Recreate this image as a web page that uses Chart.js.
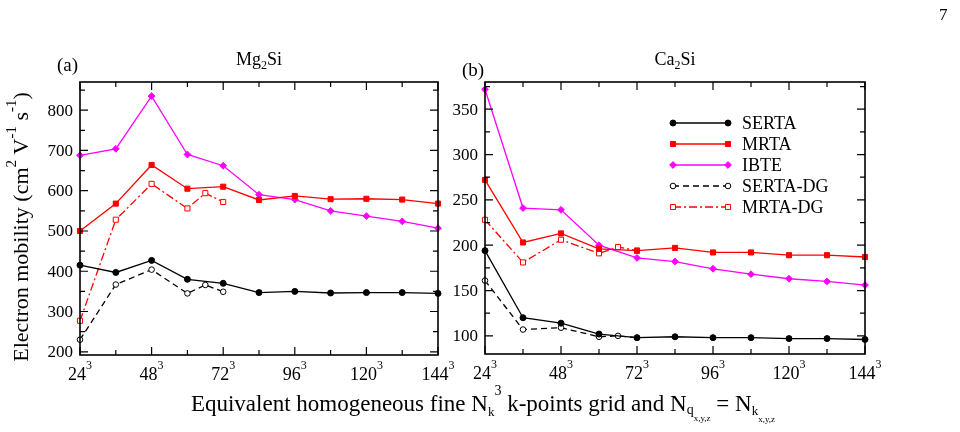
<!DOCTYPE html>
<html>
<head>
<meta charset="utf-8">
<script src="https://cdn.jsdelivr.net/npm/chart.js@4.4.0/dist/chart.umd.min.js"></script>
<style>
html, body { margin: 0; padding: 0; background: #fff; }
#wrap { position: relative; width: 960px; height: 432px; }
canvas { position: absolute; left: 0; top: 0; }
</style>
</head>
<body>
<div id="wrap">
  <canvas id="mg" width="960" height="432"></canvas>
  <canvas id="ca" width="960" height="432"></canvas>
</div>
<script>
// fine k-point grids (N_k), the DG runs stop at 72
const gridK = [24, 36, 48, 60, 72, 84, 96, 108, 120, 132, 144];
const gridDG = [24, 36, 48, 60, 66, 72];
const xTickLabels = ['24', '48', '72', '96', '120', '144'];
const xMinorTicks = [36, 60, 84, 108, 132];
const seriesNames = ['SERTA', 'MRTA', 'IBTE', 'SERTA-DG', 'MRTA-DG'];

// (a) Mg2Si
const mgSerta = [415, 397, 427, 380, 370, 347, 350, 346, 347, 347, 345];
const mgMrta = [500, 568, 664, 605, 610, 577, 587, 579, 580, 578, 568];
const mgIbte = [688, 704, 835, 690, 662, 590, 578, 550, 537, 524, 507];
const mgSertaDG = [230, 367, 404, 345, 366, 349];
const mgMrtaDG = [277, 528, 617, 556, 594, 572];
const mgYTicks = [200, 300, 400, 500, 600, 700, 800];
const mgYMinor = [250, 350, 450, 550, 650, 750, 850];

// (b) Ca2Si
const caSerta = [194, 120, 114, 102, 98, 99, 98, 98, 97, 97, 96];
const caMrta = [272, 203, 213, 196, 194, 197, 192, 192, 189, 189, 187];
const caIbte = [372, 241, 239, 200, 186, 182, 174, 168, 163, 160, 156];
const caSertaDG = [161, 107, 109, 99, 100, 98];
const caMrtaDG = [228, 181, 206, 191, 198, 194];
const caYTicks = [100, 150, 200, 250, 300, 350];
const caYMinor = [125, 175, 225, 275, 325, 375];

const SERIF = '"Liberation Serif", "Times New Roman", serif';

const styles = [
    { color: '#000000', point: 'circle', r: 3, fill: true, dash: [] },
    { color: '#ff0000', point: 'rect', r: 3.6, fill: true, dash: [] },
    { color: '#ff00ff', point: 'rectRot', r: 3.4, fill: true, dash: [] },
    { color: '#000000', point: 'circle', r: 2.8, fill: false, dash: [6, 4] },
    { color: '#ff0000', point: 'rect', r: 3.6, fill: false, dash: [8, 3, 2, 3] },
];

function makeDatasets(vals) {
    return vals.map((v, i) => {
        const xs = i < 3 ? gridK : gridDG;
        const s = styles[i];
        return {
            label: seriesNames[i],
            data: v.map((y, j) => ({ x: xs[j], y: y })),
            borderColor: s.color,
            borderWidth: 1.3,
            borderDash: s.dash,
            pointStyle: s.point,
            pointRadius: s.r,
            pointBackgroundColor: s.fill ? s.color : '#ffffff',
            pointBorderColor: s.color,
            pointBorderWidth: 1,
            tension: 0,
            clip: false,
        };
    });
}

// draws text made of pieces: [text, size, yShift]
function richText(ctx, parts, x, y, align) {
    let w = 0;
    parts.forEach(p => { ctx.font = p[1] + 'px ' + SERIF; w += ctx.measureText(p[0]).width; });
    let cx = align === 'center' ? x - w / 2 : x;
    ctx.textAlign = 'left';
    ctx.textBaseline = 'alphabetic';
    parts.forEach(p => {
        ctx.font = p[1] + 'px ' + SERIF;
        ctx.fillText(p[0], cx, y + p[2]);
        cx += ctx.measureText(p[0]).width;
    });
    return w;
}

function marker(ctx, s, x, y) {
    ctx.beginPath();
    if (s.point === 'circle') {
        ctx.arc(x, y, s.r, 0, 2 * Math.PI);
    } else if (s.point === 'rect') {
        const h = s.r * Math.SQRT1_2;
        ctx.rect(x - h, y - h, 2 * h, 2 * h);
    } else {
        ctx.moveTo(x - s.r, y); ctx.lineTo(x, y - s.r);
        ctx.lineTo(x + s.r, y); ctx.lineTo(x, y + s.r);
        ctx.closePath();
    }
    ctx.setLineDash([]);
    ctx.fillStyle = s.fill ? s.color : '#ffffff';
    ctx.fill();
    ctx.strokeStyle = s.color;
    ctx.lineWidth = 1;
    ctx.stroke();
}

function framePlugin(cfg) {
    return {
        id: 'frame',
        afterDatasetsDraw(chart) {
            const { ctx, chartArea: a, scales: { x, y } } = chart;
            ctx.save();
            ctx.fillStyle = '#000';
            ctx.strokeStyle = '#000';

            // inward ticks on all four sides
            ctx.lineWidth = 1.2;
            const vTick = (px, len) => {
                ctx.beginPath();
                ctx.moveTo(px, a.bottom); ctx.lineTo(px, a.bottom - len);
                ctx.moveTo(px, a.top); ctx.lineTo(px, a.top + len);
                ctx.stroke();
            };
            const hTick = (py, len) => {
                ctx.beginPath();
                ctx.moveTo(a.left, py); ctx.lineTo(a.left + len, py);
                ctx.moveTo(a.right, py); ctx.lineTo(a.right - len, py);
                ctx.stroke();
            };
            xTickLabels.forEach(t => vTick(x.getPixelForValue(Number(t)), 8));
            xMinorTicks.forEach(t => vTick(x.getPixelForValue(t), 5));
            cfg.yTicks.forEach(t => hTick(y.getPixelForValue(t), 8));
            cfg.yMinor.forEach(t => { if (t < cfg.yMax) hTick(y.getPixelForValue(t), 5); });

            ctx.lineWidth = 1.6;
            ctx.strokeRect(a.left, a.top, a.right - a.left, a.bottom - a.top);

            // tick labels
            xTickLabels.forEach(t => {
                richText(ctx, [[t, 18, 0], ['3', 12, -11]], x.getPixelForValue(Number(t)), a.bottom + 25, 'center');
            });
            ctx.font = '17px ' + SERIF;
            ctx.textAlign = 'right';
            ctx.textBaseline = 'middle';
            cfg.yTicks.forEach(t => ctx.fillText(String(t), a.left - 7, y.getPixelForValue(t) + 1));

            // panel tag and title
            ctx.font = '19px ' + SERIF;
            ctx.textAlign = 'left';
            ctx.textBaseline = 'alphabetic';
            ctx.fillText(cfg.tag, cfg.tagX, cfg.tagY);
            richText(ctx, [[cfg.title[0], 18, 0], ['2', 12, 4], [cfg.title[1], 18, 0]], cfg.titleX, 65, 'center');

            if (cfg.outer) {
                // page number
                ctx.font = '17px ' + SERIF;
                ctx.fillText('7', 939, 20);
                // y axis title
                ctx.save();
                ctx.translate(28, 227);
                ctx.rotate(-Math.PI / 2);
                richText(ctx, [['Electron mobility (cm', 22, 0], ['2', 15, -12], [' V', 22, 0], ['-1', 15, -12],
                    [' s', 22, 0], ['-1', 15, -12], [')', 22, 0]], 0, 0, 'center');
                ctx.restore();
                // x axis title
                richText(ctx, [['Equivalent homogeneous fine N', 23, 0], ['k', 13, 5], ['3', 14, -16],
                    [' k-points grid and N', 23, 0], ['q', 14, 3], ['x,y,z', 9, 10],
                    [' = N', 23, 0], ['k', 13, 4], ['x,y,z', 9, 11]], 483, 411, 'center');
            }

            if (cfg.legend) {
                const ly = [123, 144, 165, 186, 207];
                seriesNames.forEach((name, i) => {
                    const s = styles[i];
                    ctx.beginPath();
                    ctx.setLineDash(s.dash);
                    ctx.strokeStyle = s.color;
                    ctx.lineWidth = 1.3;
                    ctx.moveTo(673, ly[i]); ctx.lineTo(728, ly[i]);
                    ctx.stroke();
                    marker(ctx, s, 673, ly[i]);
                    marker(ctx, s, 728, ly[i]);
                    ctx.fillStyle = '#000';
                    ctx.font = '18px ' + SERIF;
                    ctx.textAlign = 'left';
                    ctx.textBaseline = 'middle';
                    ctx.fillText(name, 742, ly[i] + 1);
                });
            }
            ctx.restore();
        }
    };
}

function makeChart(id, vals, cfg) {
    return new Chart(document.getElementById(id), {
        type: 'line',
        data: { datasets: makeDatasets(vals) },
        options: {
            responsive: false,
            animation: false,
            events: [],
            layout: { padding: cfg.pad },
            scales: {
                x: { type: 'linear', display: false, min: 24, max: 144 },
                y: { type: 'linear', display: false, min: cfg.yMin, max: cfg.yMax }
            },
            plugins: { legend: { display: false }, tooltip: { enabled: false } }
        },
        plugins: [framePlugin(cfg)]
    });
}

makeChart('mg', [mgSerta, mgMrta, mgIbte, mgSertaDG, mgMrtaDG], {
    pad: { left: 80, right: 522, top: 82, bottom: 77 },
    yMin: 192, yMax: 870, yTicks: mgYTicks, yMinor: mgYMinor,
    tag: '(a)', tagX: 57, tagY: 71, title: ['Mg', 'Si'], titleX: 259,
    outer: true, legend: false
});

makeChart('ca', [caSerta, caMrta, caIbte, caSertaDG, caMrtaDG], {
    pad: { left: 485, right: 95, top: 82, bottom: 78 },
    yMin: 80, yMax: 380, yTicks: caYTicks, yMinor: caYMinor,
    tag: '(b)', tagX: 462, tagY: 76, title: ['Ca', 'Si'], titleX: 675,
    outer: false, legend: true
});
</script>
</body>
</html>
